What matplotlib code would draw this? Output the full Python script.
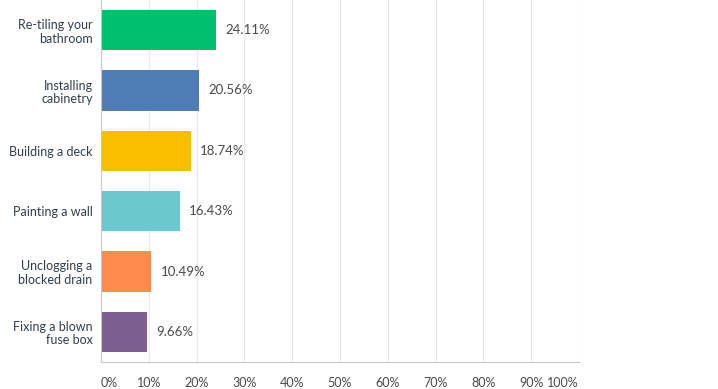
import matplotlib
matplotlib.use("Agg")
import matplotlib.pyplot as plt
from matplotlib.ticker import FixedLocator

categories = ["Re-tiling your\nbathroom", "Installing\ncabinetry", "Building a deck",
              "Painting a wall", "Unclogging a\nblocked drain", "Fixing a blown\nfuse box"]
values = [24.11, 20.56, 18.74, 16.43, 10.49, 9.66]
colors = ["#00BF6F", "#507CB6", "#F9BE00", "#6BC8CD", "#FF8B4F", "#7D5E90"]
ticks = [0, 10, 20, 30, 40, 50, 60, 70, 80, 90, 100]
tick_labels = [f"{t}%" for t in ticks]

plt.rcParams['font.family'] = ['Lato', 'DejaVu Sans']

fig = plt.figure(figsize=(7.18, 3.89), dpi=100)
ax = fig.add_axes([101/718, 1 - 362/389, 478/718, 362/389])

y = list(range(len(categories)))
ax.barh(y, values, height=0.67, color=colors, zorder=3)
ax.set_ylim(len(categories) - 0.5, -0.5)
ax.set_xlim(0, 100)

for yi, v in zip(y, values):
    ax.text(v + 2, yi, f"{v:.2f}%", va="center", ha="left", fontsize=9.5, color="#4a4a4a", zorder=4)

ax.set_yticks(y)
ax.set_yticklabels(categories, fontsize=9, color="#333e48", ha="right", linespacing=1.15)
ax.tick_params(axis="y", length=0, pad=6)

ax.xaxis.set_major_locator(FixedLocator(ticks))
ax.set_xticklabels(tick_labels, fontsize=9, color="#4a4a4a")
ax.tick_params(axis="x", length=0, pad=11)
lbls = ax.get_xticklabels()
lbls[0].set_ha("left")
lbls[-1].set_ha("right")

ax.grid(axis="x", color="#e8e8e8", linewidth=0.9, zorder=0)
for s in ["top", "right"]:
    ax.spines[s].set_visible(False)
ax.spines["left"].set_color("#c8c8c8")
ax.spines["bottom"].set_color("#c8c8c8")
ax.spines["left"].set_zorder(5)

fig.savefig("out.png", dpi=100)
